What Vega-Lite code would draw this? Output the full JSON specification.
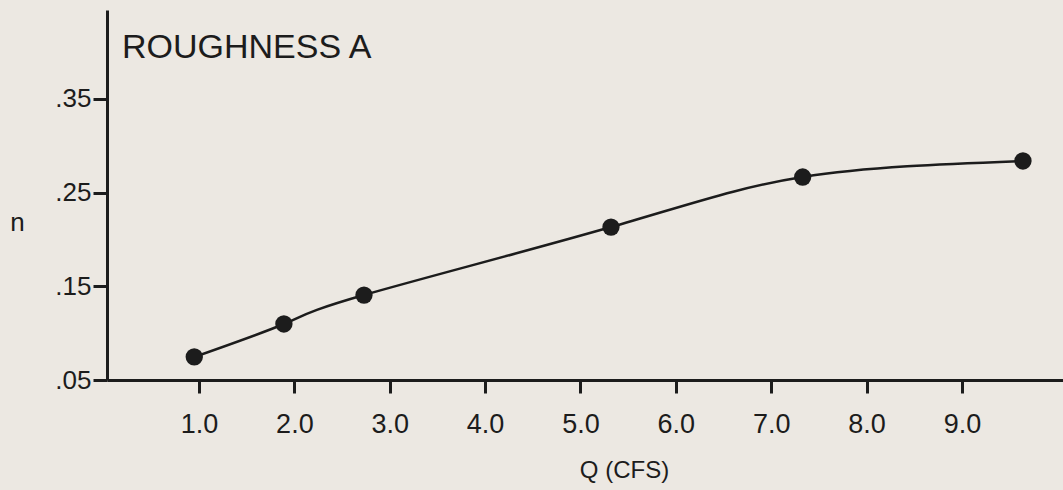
{
  "$schema": "https://vega.github.io/schema/vega-lite/v6.json",
  "width": 956,
  "height": 370,
  "autosize": {"type": "none"},
  "padding": {"left": 107, "top": 10, "right": 0, "bottom": 110},
  "background": "#ece8e2",
  "config": {"view": {"stroke": null}, "font": "Liberation Sans"},
  "title": {
    "text": "ROUGHNESS A",
    "anchor": "start", "frame": "group", "orient": "top",
    "offset": -82, "dx": 15, "baseline": "alphabetic",
    "fontSize": 34, "fontWeight": "normal", "color": "#1c1c1c"
  },
  "data": {
    "values": [
      {"Q": 0.95, "n": 0.0746},
      {"Q": 1.89, "n": 0.1098},
      {"Q": 2.73, "n": 0.1407},
      {"Q": 5.32, "n": 0.2133},
      {"Q": 7.33, "n": 0.2667},
      {"Q": 9.64, "n": 0.2838}
    ]
  },
  "encoding": {
    "x": {
      "field": "Q", "type": "quantitative",
      "scale": {"domain": [0.035, 10.06], "nice": false, "zero": false},
      "axis": {
        "values": [1, 2, 3, 4, 5, 6, 7, 8, 9],
        "labelExpr": "format(datum.value, '.1f')",
        "grid": false,
        "domainColor": "#1c1c1c", "domainWidth": 3,
        "tickColor": "#1c1c1c", "tickWidth": 3, "tickSize": 13,
        "labelFontSize": 27, "labelColor": "#1c1c1c", "labelPadding": 18,
        "title": "Q (CFS)", "titleFontSize": 24, "titleFontWeight": "normal", "titleColor": "#1c1c1c",
        "titleX": 517, "titleY": 90, "titleAlign": "center", "titleBaseline": "middle"
      }
    },
    "y": {
      "field": "n", "type": "quantitative",
      "scale": {"domain": [0.05, 0.445], "nice": false, "zero": false},
      "axis": {
        "values": [0.05, 0.15, 0.25, 0.35],
        "labelExpr": "replace(format(datum.value, '.2f'), '0.', '.')",
        "grid": false,
        "domainColor": "#1c1c1c", "domainWidth": 3,
        "tickColor": "#1c1c1c", "tickWidth": 3, "tickSize": 14,
        "labelFontSize": 26, "labelColor": "#1c1c1c", "labelPadding": 2,
        "title": "n", "titleAngle": 0, "titleFontSize": 26, "titleFontWeight": "normal", "titleColor": "#1c1c1c",
        "titleX": -90, "titleY": 212, "titleAlign": "center", "titleBaseline": "middle"
      }
    }
  },
  "layer": [
    {
      "mark": {"type": "line", "interpolate": "natural", "color": "#1c1c1c", "strokeWidth": 2.5}
    },
    {
      "mark": {"type": "point", "filled": true, "size": 300, "color": "#1c1c1c", "opacity": 1}
    }
  ]
}
